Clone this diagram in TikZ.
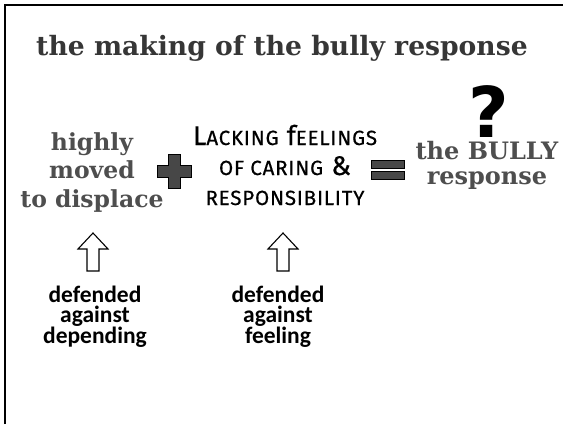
\documentclass[tikz,border=0pt]{standalone}
\usepackage{fontspec}
\newfontfamily\slabfont{DejaVu Serif}
\newfontfamily\glyphfont{DejaVu Sans}
\newfontfamily\calfont{Carlito}
\newfontfamily\handfont{Fira Sans}[LetterSpace=4, FakeBold=0.6]
% hand-made small capitals for the middle term
\newcommand\smcap[1]{{\fontsize{20.5}{20.5}\selectfont\MakeUppercase{#1}}}
\definecolor{inkgray}{HTML}{363636}
\definecolor{softgray}{HTML}{4E4E4E}
\definecolor{opfill}{HTML}{474747}
\begin{document}
\begin{tikzpicture}[x=1pt,y=-1pt,
  slab/.style={font=\slabfont\bfseries, align=center, inner sep=0pt},
  hand/.style={font=\handfont\fontsize{27}{30}\selectfont, align=center, inner sep=0pt},
  defence/.style={font=\calfont\bfseries\fontsize{23.5}{20.5}\selectfont, align=center, inner sep=0pt},
  hollow/.style={draw=black, line width=1.1pt, fill=white, line join=miter},
  opsign/.style={fill=opfill, draw=black, line width=0.8pt}
]
\useasboundingbox (0,0) rectangle (563,424);
% frame along the left and top edges
\draw[line width=2pt] (5,424) -- (5,5) -- (563,5);

% heading
\node[slab, text=inkgray, font=\slabfont\bfseries\fontsize{26.6}{30}\selectfont, anchor=base]
  (title) at (282,55) {the making of the bully response};

% first term (anchored on its last line)
\node[slab, text=softgray, font=\slabfont\bfseries\fontsize{23.5}{28.5}\selectfont, anchor=base]
  (moved) at (92,207) {highly\\moved\\to displace};

% plus sign
\begin{scope}[shift={(174.5,171)}]
  \path[opsign] (-6,-17) -- (6,-17) -- (6,-6) -- (17,-6) -- (17,6) -- (6,6)
    -- (6,17) -- (-6,17) -- (-6,6) -- (-17,6) -- (-17,-6) -- (-6,-6) -- cycle;
\end{scope}

% second term
\node[hand, anchor=base] (lacking) at (285,205)
  {L\smcap{acking} f\smcap{eelings}\\\smcap{of caring} \&\\\smcap{responsibility}};

% equals sign
\path[opsign] (371,160) rectangle (404,168);
\path[opsign] (371,171) rectangle (404,179);

% result
\node[font=\glyphfont\bfseries\fontsize{70}{70}\selectfont, inner sep=0pt, anchor=base]
  (query) at (489,137) {?};
\node[slab, text=softgray, font=\slabfont\bfseries\fontsize{24}{25}\selectfont, anchor=base]
  (result) at (487,184) {the BULLY\\response};

% hollow up-arrows beneath the first two terms
\foreach \cx/\nm in {93/arrowA, 283/arrowB} {
  \coordinate (\nm) at (\cx,252);
  \path[hollow] (\cx,233) -- (\cx+15,249) -- (\cx+6,249) -- (\cx+6,271)
    -- (\cx-6,271) -- (\cx-6,249) -- (\cx-15,249) -- cycle;
}
\node[defence, anchor=base] (depending) at (95,343) {defended\\against\\depending};
\node[defence, anchor=base] (feeling) at (278,343) {defended\\against\\feeling};
\end{tikzpicture}
\end{document}
